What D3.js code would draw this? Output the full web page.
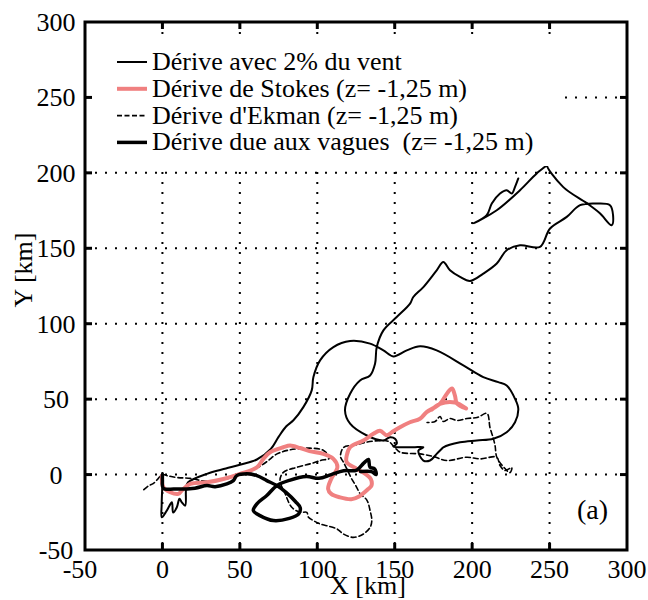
<!DOCTYPE html>
<html>
<head>
<meta charset="utf-8">
<script src="https://cdn.jsdelivr.net/npm/d3@7"></script>
<style>
  body { margin: 0; background: #fff; }
  svg text { font-family: 'Liberation Serif', 'DejaVu Serif', serif; }
</style>
</head>
<body>
<div id="chart"></div>
<script>
var width = 648,
    height = 600;

// ticks (km)
var ticks = [-50, 0, 50, 100, 150, 200, 250, 300];

var legendLabels = [
    "Dérive avec 2% du vent",
    "Dérive de Stokes (z= -1,25 m)",
    "Dérive d'Ekman (z= -1,25 m)",
    "Dérive due aux vagues  (z= -1,25 m)"
];

// trajectories, [x km, y km]
var windDrift = [[0,0],[0,-5],[-0.5,-20],[-0.4,-28.3],[2.8,-23.9],[6.1,-18.4],[6.9,-25.2],[9.3,-21.7],[11,-16.1],
    [12.5,-18.4],[14.7,-20.6],[15.3,-8.4],[16.6,-5.1],[28.7,0.5],[41,4],[50,6.5],[61,10],[70,17],[75,25],[80,32],
    [84.6,36],[91,44.7],[96.4,55.8],[97.5,64.6],[101.8,75.7],[110.4,84.5],[121.2,88.5],[134.1,86.8],[142.7,82.3],
    [149.1,78.3],[157.8,82.3],[166.4,85],[177.1,82.3],[194.3,72.4],[207.2,64.6],[216.9,61.3],[222.3,59.1],
    [227.7,50.2],[229.8,43.6],[227.7,34.7],[222.3,28.1],[213.7,23.7],[203,22.6],[192.2,21.4],[181.4,18.1],
    [180.4,17.1],[177.1,13.7],[172.8,9.3],[168.5,9.3],[165.3,15.9],[168.5,18.1],[162,18.1],[153.5,18.1],
    [149.1,18.6],[151.3,20.4],[150.2,23.7],[147,24.8],[144.9,23.7],[142.7,22.6],[132,25.9],[121.2,33.7],
    [117.9,42.5],[121.2,53.6],[127.6,62.4],[134.1,65.7],[137.3,73.5],[138.4,84.5],[142.7,95.6],[151.3,104.4],
    [159.9,113.3],[162,117.7],[168.5,124.3],[177.1,135.4],[181.4,140.9],[185.7,135.4],[192.2,131],[198.6,128.3],
    [207.2,133.2],[215.9,139.9],[222.3,148.7],[230.9,152],[243.8,150.9],[250.3,163.1],[261.1,170.8],[269.7,178.6],
    [280.4,179.7],[289,178.6],[291,171.9],[290.1,165.3],[282.5,173.2],[274,179.9],[258.7,190.7],[248.2,206.2],
    [256.7,206.2],[248.7,205],[241.7,199.6],[230.9,188.5],[215.9,175.2],[200.8,166.4],[209.4,171.9],[212.7,179.7],
    [218,186.3],[222.3,188.5],[225.6,186.3],[227.7,190.7],[229.8,196.3]];

var stokesDrift = [[-0.4,-0.7],[0.6,-8.4],[5,-11.7],[10.3,-12.8],[12.5,-10.6],[17.9,-6.2],[28.7,-5.1],[39.4,-2.9],
    [50.2,0.5],[61,4.8],[65.2,10.4],[69.5,14.8],[78.1,18.1],[82.4,19.2],[88.9,17.6],[95,15.5],[103.9,13.7],
    [110.4,10.4],[113,5],[109,-2.9],[107,-9.5],[109,-12.8],[114.7,-15.1],[122,-16.3],[127,-14.5],
    [133,-9.5],[135,-7.3],[134.5,-2.9],[131,0.5],[125.5,3.8],[119,8.2],[119,12.6],[121.2,18.1],[129.8,22.6],
    [136.2,27],[140.5,29],[144.9,26],[148,28],[153.4,31.4],[159.8,34.7],[166.3,37],[170.6,41.4],[179.2,46.9],
    [183.8,53.8],[187,57.1],[188.9,52.4],[190.2,47.1],[196.1,43.8],[188.9,47.8],[179.2,46.9],[174,43.1]];

var ekmanDrift = [[-12,-10],[-9,-7.5],[-6,-6],[-3,-3],[0,0],[4,-1],[10,-2],[18,-2.5],[28,-4.5],[36,-4],[44,-2],
    [50,0],[57,3],[62,5],[68,9],[74,13.7],[82.4,16.4],[95.3,17.5],[104,16],[108,11],[102,9.3],[95.3,7.1],[86.8,4.8],
    [78.1,1.5],[75.9,-4],[79,-12],[83.5,-21.7],[89,-25],[93.2,-25],[94.3,-28.3],[97.5,-30.5],[101.8,-32.7],
    [106.1,-33.9],[112.6,-36],[116.9,-39.4],[123.3,-41.6],[129.8,-39.4],[134.1,-35],[135.2,-30.5],[134.1,-23.9],
    [132,-16.9],[127.7,-12.7],[125,-7.6],[122,-2.5],[119.7,2.5],[117,8],[115,12],[117,18],[124,19.5],[132,21.5],
    [140,22.5],[146,22],[150,18],[153.5,14.8],[166.4,13.7],[175,12],[183.6,9.3],[196.5,11.5],[205.1,10.4],
    [215.9,11.5],[218,6],[221.2,2.7],[225.6,4.6],[224.4,1.3],[221.2,4],[216,11.3],[214.8,19.2],[213.5,24.6],
    [211.5,31.2],[209.6,40.5],[203.2,37.8],[196.7,37.2],[190.3,35.8],[185.8,37.2],[181.3,35.2],[179.3,38.5],
    [176.1,35.2],[170.9,34.5]];

var waveDrift = [[0,0],[0,-4],[0.5,-9],[7.5,-9.6],[21,-9],[28.7,-7.3],[34,-8],[41.6,-6.2],[45.8,-4],[48,-0.7],
    [54.5,0.5],[61,-0.7],[67.4,-4],[73.9,-7.3],[80,-12],[86,-18],[89,-22],[88,-26],[82,-29],[71.7,-30.5],
    [63,-27.2],[58.7,-23.9],[61,-19.4],[67.4,-13.9],[73.9,-7.3],[82,-3.8],[93,-1.3],[101,-2.5],[109,0],[117,2.5],
    [125.5,3],[130,7.6],[133,10],[134,5],[137,3.8],[138,0],[135,2],[128,2]];

var x = d3.scaleLinear().domain([-50, 300]).range([85, 627]);
var y = d3.scaleLinear().domain([-50, 300]).range([550, 22]);

var svg = d3.select("#chart").append("svg")
    .attr("width", width)
    .attr("height", height)
    .style("display", "block");

// dotted grid
var grid = svg.append("g")
    .attr("stroke", "#000")
    .attr("stroke-width", 2)
    .attr("stroke-dasharray", "2,8");

grid.selectAll("line.v")
    .data(ticks.slice(1, -1))
    .join("line")
    .attr("class", "v")
    .attr("x1", d => x(d)).attr("x2", d => x(d))
    .attr("y1", y(300)).attr("y2", y(-50));

grid.selectAll("line.h")
    .data(ticks.slice(1, -1))
    .join("line")
    .attr("class", "h")
    .attr("y1", d => y(d)).attr("y2", d => y(d))
    .attr("x1", x(-50)).attr("x2", x(300));

// trajectories
var line = d3.line()
    .x(d => x(d[0]))
    .y(d => y(d[1]))
    .curve(d3.curveCatmullRom.alpha(0.5));

var series = [
    { data: ekmanDrift, color: "#000", width: 1.6, dash: "5,3" },
    { data: windDrift, color: "#000", width: 2, dash: null },
    { data: stokesDrift, color: "#f08080", width: 4, dash: null },
    { data: waveDrift, color: "#000", width: 3.5, dash: null }
];

svg.append("g")
    .attr("fill", "none")
    .attr("stroke-linejoin", "round")
    .attr("stroke-linecap", "round")
    .selectAll("path")
    .data(series)
    .join("path")
    .attr("d", d => line(d.data))
    .attr("stroke", d => d.color)
    .attr("stroke-width", d => d.width)
    .attr("stroke-dasharray", d => d.dash);

// legend
var legend = svg.append("g");

legend.append("rect")
    .attr("x", 92).attr("y", 42)
    .attr("width", 473).attr("height", 124)
    .attr("fill", "#fff");

var legendStyles = [series[1], series[2], series[0], series[3]];

var item = legend.selectAll("g")
    .data(legendLabels)
    .join("g")
    .attr("transform", (d, i) => `translate(0,${62 + i * 26.8})`);

item.append("line")
    .attr("x1", 117).attr("x2", 147)
    .attr("stroke", (d, i) => legendStyles[i].color)
    .attr("stroke-width", (d, i) => legendStyles[i].width)
    .attr("stroke-dasharray", (d, i) => legendStyles[i].dash ? "5,2.5" : null);

item.append("text")
    .attr("x", 152)
    .attr("y", 8)
    .attr("font-size", 26)
    .style("white-space", "pre")
    .text(d => d);

// frame and inward ticks
var axes = svg.append("g")
    .attr("stroke", "#000")
    .attr("stroke-width", 3);

axes.append("rect")
    .attr("x", x(-50)).attr("y", y(300))
    .attr("width", x(300) - x(-50))
    .attr("height", y(-50) - y(300))
    .attr("fill", "none");

var inner = ticks.slice(1, -1);
axes.selectAll("line.xb").data(inner).join("line")
    .attr("x1", d => x(d)).attr("x2", d => x(d))
    .attr("y1", y(-50)).attr("y2", y(-50) - 7);
axes.selectAll("line.xt").data(inner).join("line")
    .attr("x1", d => x(d)).attr("x2", d => x(d))
    .attr("y1", y(300)).attr("y2", y(300) + 7);
axes.selectAll("line.yl").data(inner).join("line")
    .attr("y1", d => y(d)).attr("y2", d => y(d))
    .attr("x1", x(-50)).attr("x2", x(-50) + 7);
axes.selectAll("line.yr").data(inner).join("line")
    .attr("y1", d => y(d)).attr("y2", d => y(d))
    .attr("x1", x(300)).attr("x2", x(300) - 7);

// tick labels
svg.append("g")
    .attr("font-size", 26)
    .attr("text-anchor", "middle")
    .selectAll("text")
    .data(ticks)
    .join("text")
    .attr("x", d => x(d) - (d < 0 ? 5 : 0))
    .attr("y", 578)
    .text(d => d);

svg.append("g")
    .attr("font-size", 26)
    .attr("text-anchor", "middle")
    .selectAll("text")
    .data(ticks)
    .join("text")
    .attr("x", 56)
    .attr("y", d => y(d) + 9)
    .text(d => d);

// axis titles
svg.append("text")
    .attr("x", 368).attr("y", 594)
    .attr("font-size", 26)
    .attr("text-anchor", "middle")
    .text("X [km]");

svg.append("text")
    .attr("transform", "translate(32,270) rotate(-90)")
    .attr("font-size", 26)
    .attr("text-anchor", "middle")
    .text("Y [km]");

svg.append("text")
    .attr("x", 608).attr("y", 519)
    .attr("font-size", 28)
    .attr("text-anchor", "end")
    .text("(a)");
</script>
</body>
</html>
